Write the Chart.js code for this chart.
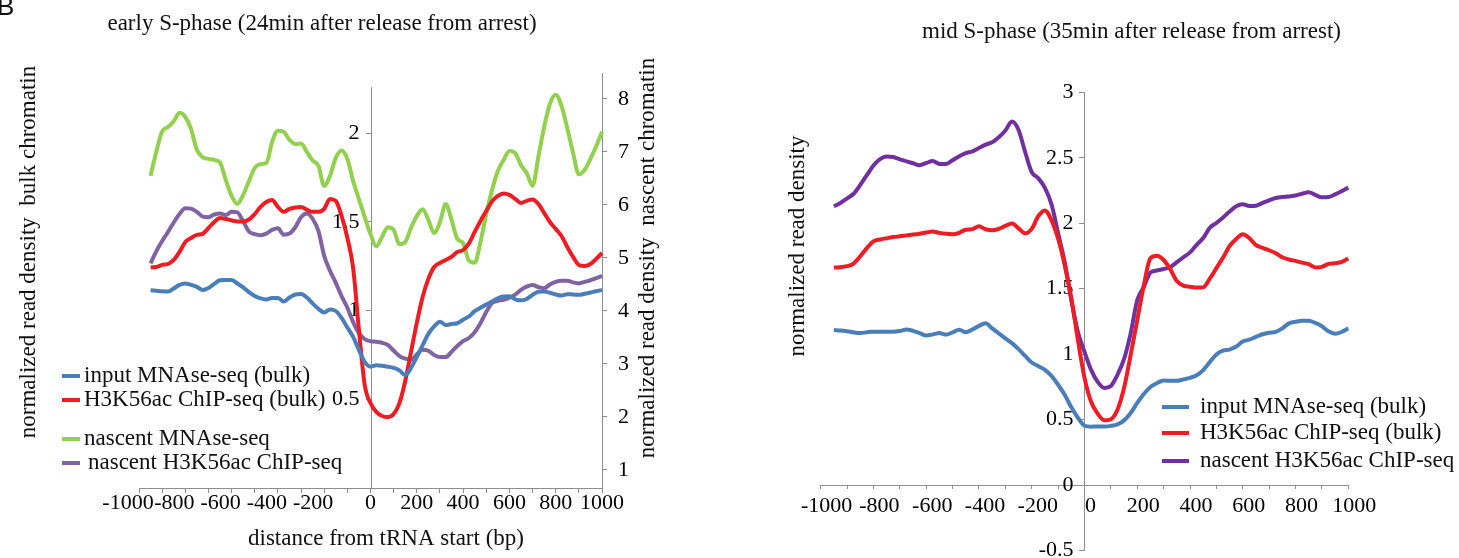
<!DOCTYPE html>
<html><head><meta charset="utf-8">
<script src="https://cdn.jsdelivr.net/npm/chart.js@4.4.1/dist/chart.umd.min.js"></script>
<style>
html,body{margin:0;padding:0;background:#fff;width:1459px;height:558px;overflow:hidden;}
canvas{position:absolute;top:0;}
#c1{left:0;width:700px;height:558px;}
#c2{left:700px;width:759px;height:558px;}
</style></head><body>
<canvas id="c1" width="700" height="558"></canvas>
<canvas id="c2" width="759" height="558"></canvas>
<script>
// ---------- data ----------
const X_TICKS = [-1000,-900,-800,-700,-600,-500,-400,-300,-200,-100,0,100,200,300,400,500,600,700,800,900,1000];
const BULK_TICKS = [0.5, 1, 1.5, 2];
const NASCENT_TICKS = [1, 2, 3, 4, 5, 6, 7, 8];
const MID_TICKS = [-0.5, 0, 0.5, 1, 1.5, 2, 2.5, 3];

const EARLY_POS = [-950,-925,-900,-875,-850,-825,-800,-775,-750,-725,
  -700,-675,-650,-625,-600,-575,-550,-525,-500,-475,
  -450,-425,-400,-375,-350,-325,-300,-275,-250,-225,
  -200,-175,-150,-125,-100,-75,-50,-25,0,25,
  50,75,100,125,150,175,200,225,250,275,
  300,325,350,375,400,425,450,475,500,525,
  550,575,600,625,650,675,700,725,750,775,
  800,825,850,875,900,925,950,975,1000];

const EARLY_INPUT_BULK = [1.115,1.112,1.109,1.108,1.125,1.145,1.153,1.145,1.134,1.117,
  1.128,1.151,1.171,1.173,1.173,1.153,1.131,1.105,1.083,1.069,
  1.063,1.072,1.072,1.052,1.074,1.091,1.094,1.074,1.041,1.010,
  0.990,1.007,0.998,0.959,0.905,0.852,0.778,0.711,0.684,0.692,
  0.689,0.684,0.677,0.663,0.637,0.677,0.739,0.804,0.869,0.911,
  0.938,0.919,0.925,0.929,0.949,0.967,0.997,1.016,1.034,1.051,
  1.070,1.080,1.081,1.064,1.058,1.066,1.089,1.107,1.108,1.101,
  1.091,1.085,1.093,1.091,1.089,1.095,1.102,1.109,1.117];

const EARLY_H3K56_BULK = [1.244,1.246,1.258,1.263,1.286,1.331,1.387,1.410,1.427,1.433,
  1.466,1.500,1.523,1.517,1.509,1.503,1.503,1.514,1.545,1.585,
  1.613,1.624,1.585,1.557,1.574,1.582,1.585,1.570,1.557,1.557,
  1.574,1.630,1.619,1.534,1.410,1.241,0.891,0.581,0.479,0.429,
  0.406,0.400,0.417,0.479,0.603,0.767,0.931,1.077,1.179,1.246,
  1.269,1.286,1.303,1.331,1.342,1.379,1.444,1.506,1.562,1.616,
  1.647,1.661,1.653,1.630,1.607,1.619,1.627,1.602,1.551,1.500,
  1.461,1.421,1.359,1.303,1.258,1.252,1.263,1.292,1.325];

const EARLY_NASCENT_MNASE = [6.55,7.01,7.39,7.47,7.58,7.74,7.66,7.43,7.04,6.90,
  6.87,6.85,6.80,6.47,6.17,6.02,6.19,6.45,6.70,6.77,
  6.79,7.19,7.40,7.38,7.23,7.15,7.16,7.00,6.84,6.74,
  6.36,6.55,6.89,7.03,6.87,6.45,6.11,5.77,5.45,5.22,
  5.40,5.58,5.53,5.26,5.30,5.57,5.79,5.92,5.72,5.47,
  5.68,6.02,5.72,5.36,5.28,4.95,4.91,5.30,5.83,6.28,
  6.64,6.85,7.02,6.98,6.75,6.60,6.36,6.91,7.47,7.91,
  8.08,7.87,7.45,6.98,6.58,6.66,6.87,7.11,7.38];

const EARLY_NASCENT_H3K56 = [4.90,5.13,5.32,5.49,5.67,5.83,5.94,5.93,5.87,5.78,
  5.77,5.82,5.84,5.81,5.87,5.86,5.69,5.50,5.45,5.43,
  5.46,5.53,5.56,5.44,5.46,5.58,5.77,5.84,5.74,5.51,
  5.04,4.76,4.53,4.28,4.06,3.79,3.58,3.47,3.43,3.42,
  3.40,3.36,3.25,3.15,3.10,3.08,3.18,3.27,3.25,3.17,
  3.13,3.13,3.23,3.34,3.43,3.49,3.60,3.77,3.98,4.15,
  4.19,4.21,4.25,4.31,4.40,4.46,4.49,4.45,4.43,4.50,
  4.55,4.57,4.57,4.54,4.52,4.55,4.58,4.62,4.66];

const MID_POS = [-950,-925,-900,-875,-850,-825,-800,-775,-750,-725,
  -700,-675,-650,-625,-600,-575,-550,-525,-500,-475,
  -450,-425,-400,-375,-350,-325,-300,-275,-250,-225,
  -200,-175,-150,-125,-100,-75,-50,-25,0,25,
  50,75,100,125,150,175,200,225,250,275,
  300,325,350,375,400,425,450,475,500,525,
  550,575,600,625,650,675,700,725,750,775,
  800,825,850,875,900,925,950,975,1000,1025,1050,1075];

const MID_INPUT_BULK = [1.184,1.181,1.175,1.166,1.161,1.167,1.171,1.171,1.171,1.171,
  1.177,1.188,1.178,1.161,1.142,1.151,1.161,1.149,1.167,1.187,
  1.168,1.188,1.216,1.235,1.196,1.159,1.121,1.084,1.038,0.986,
  0.936,0.908,0.880,0.834,0.766,0.689,0.594,0.514,0.453,0.446,
  0.448,0.448,0.452,0.463,0.494,0.550,0.627,0.695,0.749,0.779,
  0.798,0.796,0.796,0.807,0.819,0.838,0.878,0.939,0.998,1.027,
  1.035,1.058,1.097,1.110,1.132,1.152,1.164,1.170,1.197,1.235,
  1.247,1.255,1.255,1.238,1.213,1.174,1.156,1.170,1.197,1.217,1.238,1.253];

const MID_H3K56_BULK = [1.662,1.664,1.672,1.692,1.748,1.810,1.861,1.876,1.885,1.894,
  1.900,1.907,1.913,1.920,1.929,1.937,1.926,1.919,1.916,1.927,
  1.950,1.955,1.976,1.954,1.946,1.957,1.980,1.997,1.961,1.923,
  1.957,2.055,2.098,2.022,1.881,1.679,1.428,1.108,0.819,0.636,
  0.545,0.495,0.503,0.575,0.743,0.994,1.260,1.527,1.733,1.752,
  1.719,1.649,1.558,1.523,1.515,1.508,1.510,1.577,1.657,1.737,
  1.826,1.880,1.915,1.886,1.832,1.812,1.793,1.771,1.740,1.723,
  1.712,1.699,1.687,1.662,1.667,1.689,1.695,1.705,1.731,1.756,1.762,1.768];

const MID_NASCENT_H3K56 = [2.129,2.155,2.190,2.225,2.293,2.367,2.441,2.489,2.510,2.506,
  2.488,2.473,2.458,2.443,2.460,2.475,2.453,2.453,2.481,2.512,
  2.535,2.549,2.575,2.600,2.618,2.656,2.708,2.776,2.712,2.544,
  2.390,2.343,2.270,2.144,1.923,1.702,1.413,1.169,1.017,0.880,
  0.788,0.741,0.756,0.842,0.963,1.159,1.413,1.514,1.624,1.639,
  1.650,1.665,1.702,1.740,1.777,1.835,1.887,1.965,2.002,2.044,
  2.089,2.130,2.145,2.131,2.133,2.155,2.175,2.193,2.201,2.204,
  2.212,2.225,2.237,2.216,2.198,2.200,2.220,2.245,2.272,2.296,2.299,2.302];

const LEGEND_EARLY = ['input MNAse-seq (bulk)', 'H3K56ac ChIP-seq (bulk)', 'nascent MNAse-seq', 'nascent H3K56ac ChIP-seq'];
const LEGEND_MID = ['input MNAse-seq (bulk)', 'H3K56ac ChIP-seq (bulk)', 'nascent H3K56ac ChIP-seq'];
const TITLE_EARLY = 'early S-phase (24min after release from arrest)';
const TITLE_MID = 'mid S-phase (35min after release from arrest)';
const X_TITLE = 'distance from tRNA start (bp)';
const Y_TITLE_BULK = 'normalized read density  bulk chromatin';
const Y_TITLE_NASCENT = 'normalized read density  nascent chromatin';
const Y_TITLE_MID = 'normalized read density';

// ---------- styles ----------
const SERIF = '"Liberation Serif", "Times New Roman", serif';
const GREY = '#8e8e8e';
const C_BLUE = '#4A7EBB', C_RED = '#EE1D23', C_GREEN = '#92D050', C_PURP_L = '#8064A2', C_PURP_R = '#7030A0';
const TICK_FONT = {family: SERIF, size: 22};
const TXT = '23px ' + SERIF;
const LEFT_AXIS_TOP = 2.26;

function noPad(s){ s.paddingLeft = 0; s.paddingRight = 0; s.paddingTop = 0; s.paddingBottom = 0; }
function series(label, xs, ys, color, axis){
  return {label, data: xs.map((x, i) => ({x, y: ys[i]})), borderColor: color, backgroundColor: color,
    borderWidth: 4, pointRadius: 0, fill: false, cubicInterpolationMode: 'monotone', yAxisID: axis, clip: false};
}
function vtext(ctx, str, xBase, yCenter){
  ctx.save(); ctx.translate(xBase, yCenter); ctx.rotate(-Math.PI/2);
  ctx.font = TXT; ctx.textAlign = 'center'; ctx.textBaseline = 'alphabetic'; ctx.fillStyle = '#111';
  ctx.fillText(str, 0, 0); ctx.restore();
}
function htext(ctx, str, x, y, align, font, base){
  ctx.save(); ctx.font = font || TXT; ctx.textAlign = align || 'center'; ctx.textBaseline = base || 'alphabetic';
  ctx.fillStyle = '#111'; ctx.fillText(str, x, y); ctx.restore();
}
function legend(ctx, items){
  items.forEach(it => {
    ctx.save(); ctx.strokeStyle = it.color; ctx.lineWidth = 4; ctx.lineCap = 'butt';
    ctx.beginPath(); ctx.moveTo(it.x1, it.y); ctx.lineTo(it.x2, it.y); ctx.stroke(); ctx.restore();
    htext(ctx, it.label, it.tx, it.y, 'left', TXT, 'middle');
  });
}
const tickOpts = (extra) => Object.assign({color: '#000', font: TICK_FONT, autoSkip: false, maxRotation: 0, minRotation: 0}, extra);
// negative labels sit a little to the left of their tick in the original figure
const earlyXLabel = v => (v % 200 !== 0 ? '' : (v < 0 ? String(v) + '\u2007\u2007' : String(v)));

// ---------- early S-phase chart ----------
const earlyDecor = {
  id: 'earlyDecor',
  beforeDatasetsDraw(chart){
    const ctx = chart.ctx, xs = chart.scales.x, ys = chart.scales.y;
    const x0 = Math.round(xs.getPixelForValue(0)) + 0.5;
    ctx.save(); ctx.strokeStyle = GREY; ctx.lineWidth = 1;
    ctx.beginPath(); ctx.moveTo(x0, ys.getPixelForValue(LEFT_AXIS_TOP)); ctx.lineTo(x0, chart.chartArea.bottom); ctx.stroke();
    ctx.restore();
  },
  afterDraw(chart){
    const ctx = chart.ctx;
    htext(ctx, 'B', -3, 15, 'left', '26px "Liberation Sans", Arial, sans-serif');
    htext(ctx, TITLE_EARLY, 322, 30);
    htext(ctx, X_TITLE, 386, 545);
    vtext(ctx, Y_TITLE_BULK, 35, 252);
    vtext(ctx, Y_TITLE_NASCENT, 654, 258);
    legend(ctx, [
      {label: LEGEND_EARLY[0], color: C_BLUE, x1: 62, x2: 80, y: 376, tx: 84},
      {label: LEGEND_EARLY[1], color: C_RED, x1: 62, x2: 80, y: 400, tx: 84},
      {label: LEGEND_EARLY[2], color: C_GREEN, x1: 62, x2: 80, y: 439, tx: 84},
      {label: LEGEND_EARLY[3], color: C_PURP_L, x1: 62, x2: 80, y: 463, tx: 88}
    ]);
  }
};

new Chart(document.getElementById('c1'), {
  type: 'line',
  data: {datasets: [
    series(LEGEND_EARLY[0], EARLY_POS, EARLY_INPUT_BULK, C_BLUE, 'y'),
    series(LEGEND_EARLY[1], EARLY_POS, EARLY_H3K56_BULK, C_RED, 'y'),
    series(LEGEND_EARLY[2], EARLY_POS, EARLY_NASCENT_MNASE, C_GREEN, 'y2'),
    series(LEGEND_EARLY[3], EARLY_POS, EARLY_NASCENT_H3K56, C_PURP_L, 'y2')
  ]},
  options: {
    responsive: false, animation: false, events: [],
    layout: {padding: {left: 139, top: 73, right: 0, bottom: 0}},
    plugins: {legend: {display: false}, tooltip: {enabled: false}, title: {display: false}},
    scales: {
      x: {type: 'linear', position: 'bottom', min: -1000, max: 1000,
        afterBuildTicks: s => { s.ticks = X_TICKS.map(v => ({value: v})); },
        ticks: tickOpts({padding: -3, callback: earlyXLabel}),
        grid: {display: true, drawOnChartArea: false, drawTicks: true, tickLength: 5, color: GREY, lineWidth: 1},
        border: {display: true, color: GREY, width: 1},
        afterFit: s => { s.height = 70; noPad(s); }
      },
      y: {type: 'linear', position: {x: 0}, min: 0, max: 2.34,
        afterBuildTicks: s => { s.ticks = BULK_TICKS.map(v => ({value: v})); },
        ticks: tickOpts({callback: v => String(v) + '\u2007'}),
        grid: {display: true, drawOnChartArea: false, drawTicks: true, tickLength: 5, color: GREY, lineWidth: 1},
        border: {display: false},
        afterFit: s => { noPad(s); }
      },
      y2: {type: 'linear', position: 'right', min: 0.66, max: 8.49,
        afterBuildTicks: s => { s.ticks = NASCENT_TICKS.map(v => ({value: v})); },
        ticks: tickOpts({padding: 11, callback: v => String(v)}),
        grid: {display: true, drawOnChartArea: false, drawTicks: true, tickLength: 5, color: GREY, lineWidth: 1},
        border: {display: true, color: GREY, width: 1},
        afterFit: s => { s.width = 98; noPad(s); }
      }
    }
  },
  plugins: [earlyDecor]
});

// ---------- mid S-phase chart ----------
const midDecor = {
  id: 'midDecor',
  afterDraw(chart){
    const ctx = chart.ctx;
    htext(ctx, TITLE_MID, 431.5, 38);
    vtext(ctx, Y_TITLE_MID, 104, 246);
    legend(ctx, [
      {label: LEGEND_MID[0], color: C_BLUE, x1: 462, x2: 489, y: 407, tx: 500},
      {label: LEGEND_MID[1], color: C_RED, x1: 462, x2: 489, y: 433, tx: 500},
      {label: LEGEND_MID[2], color: C_PURP_R, x1: 462, x2: 489, y: 461, tx: 500}
    ]);
  }
};

new Chart(document.getElementById('c2'), {
  type: 'line',
  data: {datasets: [
    series(LEGEND_MID[0], MID_POS, MID_INPUT_BULK, C_BLUE, 'y'),
    series(LEGEND_MID[1], MID_POS, MID_H3K56_BULK, C_RED, 'y'),
    series(LEGEND_MID[2], MID_POS, MID_NASCENT_H3K56, C_PURP_R, 'y')
  ]},
  options: {
    responsive: false, animation: false, events: [],
    layout: {padding: {left: 120.7, top: 92.3, right: 110.7, bottom: 7.5}},
    plugins: {legend: {display: false}, tooltip: {enabled: false}, title: {display: false}},
    scales: {
      x: {type: 'linear', position: {y: 0}, min: -1000, max: 1000,
        afterBuildTicks: s => { s.ticks = X_TICKS.map(v => ({value: v})); },
        ticks: tickOpts({padding: 5, labelOffset: 6, callback: v => (v % 200 === 0 ? String(v) : '')}),
        grid: {display: true, drawOnChartArea: false, drawTicks: true, tickLength: 3, color: GREY, lineWidth: 1},
        border: {display: true, color: GREY, width: 1},
        afterFit: s => { noPad(s); }
      },
      y: {type: 'linear', position: {x: 0}, min: -0.5, max: 3,
        afterBuildTicks: s => { s.ticks = MID_TICKS.map(v => ({value: v})); },
        ticks: tickOpts({callback: v => String(v) + '\u2007'}),
        grid: {display: true, drawOnChartArea: false, drawTicks: true, tickLength: 5, color: GREY, lineWidth: 1},
        border: {display: true, color: GREY, width: 1},
        afterFit: s => { noPad(s); }
      }
    }
  },
  plugins: [midDecor]
});
</script>
</body></html>
